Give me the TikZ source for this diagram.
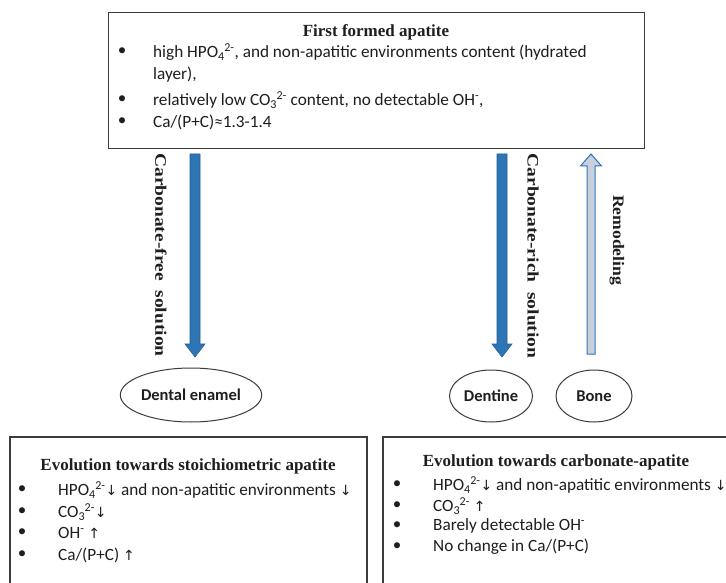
\documentclass[tikz,border=0pt]{standalone}
\usepackage{fontspec}
\setmainfont{Carlito}
\newfontfamily\headfont{Liberation Serif}
\newfontfamily\arrfont{DejaVu Sans}
\newcommand{\chem}[2]{\textsubscript{#1}\kern-0.5pt\textsuperscript{#2}}
\newcommand{\dnar}{{\arrfont\fontsize{14}{14}\selectfont\char"2193}}
\newcommand{\upar}{{\arrfont\fontsize{14}{14}\selectfont\char"2191}}
\definecolor{arrblue}{HTML}{2E75B6}
\definecolor{arredge}{HTML}{245E94}
\definecolor{remfill}{HTML}{C8D0DE}
\definecolor{boxline}{HTML}{3C3C3C}
\definecolor{txtcol}{HTML}{1E1E1E}
\tikzset{
  box/.style={draw=boxline, line width=1.4pt, inner sep=0pt},
  head/.style={font=\headfont\bfseries\fontsize{17}{19}\selectfont, text=txtcol, inner sep=0pt},
  txt/.style={font=\fontsize{17.2}{19}\selectfont, text=txtcol, anchor=west, inner sep=0pt},
  bul/.style={font=\fontsize{17}{19}\selectfont, text=txtcol, inner sep=0pt},
  ell/.style={draw=boxline, line width=1pt, ellipse, inner sep=0pt, font=\bfseries\fontsize{16.5}{18}\selectfont, text=txtcol},
  vlab/.style={font=\headfont\bfseries\fontsize{16}{17}\selectfont, text=txtcol, rotate=-90, inner sep=0pt},
  bluearr/.style={fill=arrblue, draw=arredge, line width=0.6pt},
  remarr/.style={fill=remfill, draw=arrblue, line width=1pt},
}
\usetikzlibrary{shapes.geometric}
\begin{document}
\begin{tikzpicture}[x=1pt,y=-1pt]
\useasboundingbox (0,0) rectangle (726,583);
\clip (0,0) rectangle (726,583);
\fill[white] (0,0) rectangle (726,583);

% top box
\node[box, minimum width=536pt, minimum height=136pt, anchor=north west] (top) at (108,12) {};
\node[head] (toptitle) at (376,32) {First formed apatite};
\node[bul] (tb1) at (122,52) {•};
\node[txt] (tl1) at (153,52) {high HPO\chem{4}{2-}, and non-apatitic environments content (hydrated};
\node[txt] (tl1b) at (153,75) {layer),};
\node[bul] (tb2) at (122,100) {•};
\node[txt] (tl2) at (153,100) {relatively low CO\chem{3}{2-} content, no detectable OH\textsuperscript{-},};
\node[bul] (tb3) at (122,122) {•};
\node[txt] (tl3) at (153,122) {Ca/(P+C)≈1.3-1.4};

% ellipses
\node[ell, minimum width=122pt, minimum height=54pt] (enamel) at (191,395) {Dental enamel};
\node[ell, minimum width=83pt, minimum height=52pt] (dentine) at (491,396) {Dentine};
\node[ell, minimum width=76pt, minimum height=52pt] (bone) at (594,396) {Bone};

% block arrows
\coordinate (a1s) at (195,154); \coordinate (a1e) at (195,357);
\draw[bluearr] ([xshift=-5pt]a1s) -- ([xshift=5pt]a1s) -- ([xshift=5pt,yshift=13pt]a1e) -- ([xshift=10pt,yshift=13pt]a1e) -- (a1e) -- ([xshift=-10pt,yshift=13pt]a1e) -- ([xshift=-5pt,yshift=13pt]a1e) -- cycle;
\coordinate (a2s) at (502,154); \coordinate (a2e) at (502,357);
\draw[bluearr] ([xshift=-5pt]a2s) -- ([xshift=5pt]a2s) -- ([xshift=5pt,yshift=13pt]a2e) -- ([xshift=10pt,yshift=13pt]a2e) -- (a2e) -- ([xshift=-10pt,yshift=13pt]a2e) -- ([xshift=-5pt,yshift=13pt]a2e) -- cycle;
\coordinate (a3s) at (591,354); \coordinate (a3e) at (591,154);
\draw[remarr] ([xshift=-4pt]a3s) -- ([xshift=4pt]a3s) -- ([xshift=4pt,yshift=-12pt]a3e) -- ([xshift=10.5pt,yshift=-12pt]a3e) -- (a3e) -- ([xshift=-10.5pt,yshift=-12pt]a3e) -- ([xshift=-4pt,yshift=-12pt]a3e) -- cycle;

% vertical labels
\node[vlab] (lfree) at (161,255) {\scalebox{1.22}[1]{Carbonate-free\ \ solution}};
\node[vlab] (lrich) at (533,256) {\scalebox{1.22}[1]{Carbonate-rich\ \ solution}};
\node[vlab] (lrem) at (617,240) {\scalebox{1.1}[1]{Remodeling}};

% bottom left box
\draw[draw=boxline, line width=1.4pt] (10,600) |- (367,437) -- (367,600);
\node[head] (bltitle) at (188,466) {Evolution towards stoichiometric apatite};
\node[bul] (bb1) at (22,490) {•};
\node[txt] (bl1) at (58,490) {HPO\chem{4}{2-}\dnar{} and non-apatitic environments \dnar};
\node[bul] (bb2) at (22,512) {•};
\node[txt] (bl2) at (58,512) {CO\chem{3}{2-}\dnar};
\node[bul] (bb3) at (22,533) {•};
\node[txt] (bl3) at (58,533) {OH\textsuperscript{-} \upar};
\node[bul] (bb4) at (22,555) {•};
\node[txt] (bl4) at (58,555) {Ca/(P+C) \upar};

% bottom right box
\draw[draw=boxline, line width=1.4pt] (383,600) |- (740,437);
\node[head] (brtitle) at (556,462) {Evolution towards carbonate-apatite};
\node[bul] (rb1) at (397,485) {•};
\node[txt] (br1) at (433,485) {HPO\chem{4}{2-}\dnar{} and non-apatitic environments \dnar};
\node[bul] (rb2) at (397,506) {•};
\node[txt] (br2) at (433,506) {CO\chem{3}{2-} \upar};
\node[bul] (rb3) at (397,526) {•};
\node[txt] (br3) at (433,526) {Barely detectable OH\textsuperscript{-}};
\node[bul] (rb4) at (397,547) {•};
\node[txt] (br4) at (433,547) {No change in Ca/(P+C)};
\end{tikzpicture}
\end{document}
